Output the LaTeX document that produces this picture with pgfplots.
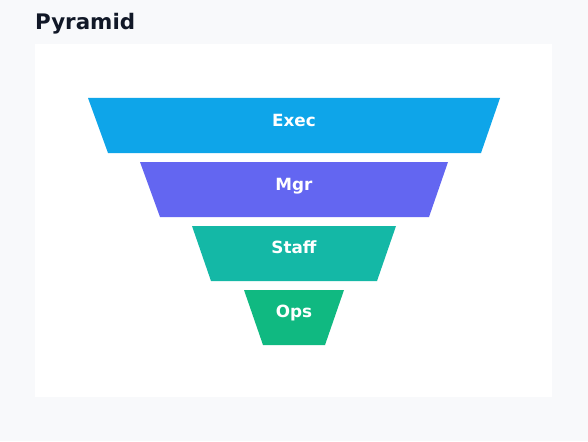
\documentclass[border=0pt]{standalone}
\usepackage{fontspec}
\setmainfont{DejaVu Sans}
\usepackage{pgfplots}
\pgfplotsset{compat=1.18}
\definecolor{bgcol}{HTML}{F8F9FB}
\definecolor{titlecol}{HTML}{111827}
\definecolor{execcol}{HTML}{0EA5E9}
\definecolor{mgrcol}{HTML}{6366F1}
\definecolor{staffcol}{HTML}{14B8A6}
\definecolor{opscol}{HTML}{10B981}

\begin{document}
\begin{tikzpicture}[
    lab/.style={anchor=base, inner sep=0, text=white, font=\fontsize{16.8}{20}\selectfont\bfseries},
]
\begin{axis}[
    scale only axis,
    width=588pt, height=441pt,
    xmin=0, xmax=588, ymin=0, ymax=441,
    y dir=reverse,
    hide axis,
    clip=false,
]
% page and panel
\fill[bgcol] (axis cs:0,0) rectangle (axis cs:588,441);
\fill[white] (axis cs:35,44) rectangle (axis cs:552,397);

% funnel levels (top width 412, 308, 204, 100)
\addplot[fill=execcol, draw=none] coordinates {(88,98) (500,98) (481,153) (108,153)} -- cycle;
\addplot[fill=mgrcol, draw=none] coordinates {(140,162) (448,162) (429,217) (160,217)} -- cycle;
\addplot[fill=staffcol, draw=none] coordinates {(192,226) (396,226) (377,281) (211,281)} -- cycle;
\addplot[fill=opscol, draw=none] coordinates {(244,290) (344,290) (325,345) (263,345)} -- cycle;

\node[anchor=base west, inner sep=0, text=titlecol, font=\fontsize{21.4}{25}\selectfont\bfseries] at (axis cs:35,29.5) {Pyramid};
\node[lab] at (axis cs:294,126) {Exec};
\node[lab] at (axis cs:294,190.5) {Mgr};
\node[lab] at (axis cs:294,253.5) {Staff};
\node[lab] at (axis cs:294,317.7) {Ops};
\end{axis}
\end{tikzpicture}
\end{document}
